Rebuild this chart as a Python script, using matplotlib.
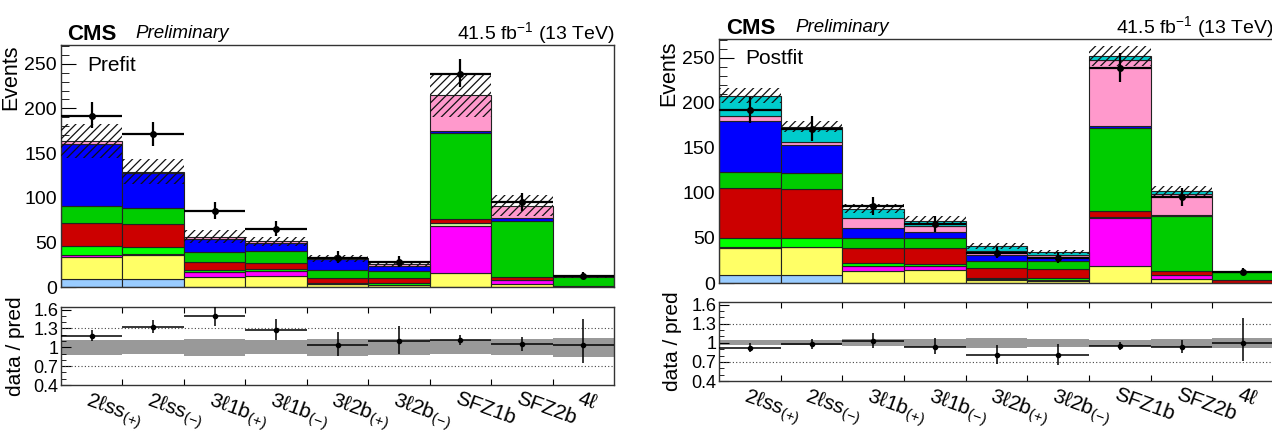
import numpy as np
import matplotlib
matplotlib.use("Agg")
import matplotlib.pyplot as plt
from matplotlib.ticker import MultipleLocator, FixedLocator

plt.rcParams['font.family'] = ['Liberation Sans', 'DejaVu Sans']
plt.rcParams['mathtext.fontset'] = 'custom'
plt.rcParams['mathtext.rm'] = 'Liberation Sans'
plt.rcParams['mathtext.it'] = 'Liberation Sans:italic'
plt.rcParams['mathtext.bf'] = 'Liberation Sans:bold'
plt.rcParams['hatch.linewidth'] = 0.9

# signal region categories
categories = ['2ℓss$_{(+)}$', '2ℓss$_{(-)}$', '3ℓ1b$_{(+)}$', '3ℓ1b$_{(-)}$',
              '3ℓ2b$_{(+)}$', '3ℓ2b$_{(-)}$', 'SFZ1b', 'SFZ2b', '4ℓ']

# observed events
data_obs = np.array([192, 171, 85, 65, 33, 28, 239, 95, 12])
data_err_lo = np.array([13.8, 13.1, 9.2, 8.1, 5.7, 5.3, 15.5, 9.7, 3.4])
data_err_hi = np.array([14.8, 14.1, 10.3, 9.1, 6.8, 6.3, 16.5, 10.8, 4.6])

# prefit yields, stacked bottom to top
pre_flips    = [8.6, 8.6, 0, 0, 0, 0, 0, 0, 0]
pre_fakes    = [25.4, 27.4, 11.0, 12.7, 3.0, 2.0, 16.0, 3.4, 0]
pre_diboson  = [1.5, 1.0, 5.5, 5.2, 0.5, 0.5, 52.7, 4.4, 0]
pre_triboson = [0, 0, 0, 0, 0, 0, 3.3, 0, 0]
pre_convs    = [10.8, 8.0, 2.2, 1.9, 1.0, 2.0, 0, 0, 0]
pre_tth      = [25.7, 25.0, 9.3, 7.5, 6.0, 5.2, 4.0, 3.7, 0.8]
pre_ttll     = [19.0, 19.0, 11.6, 13.1, 8.5, 8.3, 96.0, 62.8, 10.7]
pre_ttlnu    = [69.0, 38.5, 14.4, 9.3, 12.0, 6.0, 3.0, 2.7, 0]
pre_tllq     = [3.0, 1.5, 2.5, 1.3, 1.0, 1.5, 40.0, 14.0, 0]
pre_thq      = [0, 0, 0, 0, 0, 0, 0, 0, 0]
pre_unc      = [19.0, 14.0, 7.5, 5.5, 4.2, 3.2, 24.5, 11.5, 1.7]

# postfit yields
post_flips    = [8.6, 8.6, 0, 0, 0, 0, 0, 0, 0]
post_fakes    = [29.9, 31.0, 13.4, 13.9, 3.0, 2.4, 18.7, 4.0, 0]
post_diboson  = [1.5, 0.9, 5.6, 5.1, 1.0, 0.6, 53.3, 4.6, 0]
post_triboson = [0, 0, 0, 0, 0, 0, 1.0, 0, 0]
post_convs    = [10.4, 9.1, 2.7, 2.0, 1.0, 2.0, 0, 0, 0]
post_tth      = [55.2, 55.3, 16.8, 17.5, 12.2, 11.0, 7.4, 4.8, 3.2]
post_ttll     = [17.9, 17.5, 11.1, 11.9, 7.4, 8.6, 91.3, 60.6, 8.5]
post_ttlnu    = [56.0, 30.9, 11.3, 6.6, 6.4, 4.4, 2.6, 1.8, 0]
post_tllq     = [5.5, 3.7, 11.1, 6.8, 5.0, 2.0, 73.7, 22.7, 0]
post_thq      = [23.0, 16.5, 10.5, 5.6, 5.0, 3.7, 4.0, 3.5, 0.3]
post_unc      = [8.4, 6.2, 4.8, 4.5, 3.2, 2.2, 11.0, 6.2, 0.9]

colors = ['#99ccff', '#ffff66', '#ff00ff', '#ccff99', '#00ff00',
          '#cc0000', '#00cc00', '#0000ff', '#ff99cc', '#00cccc']

prefit = [pre_flips, pre_fakes, pre_diboson, pre_triboson, pre_convs,
          pre_tth, pre_ttll, pre_ttlnu, pre_tllq, pre_thq]
postfit = [post_flips, post_fakes, post_diboson, post_triboson, post_convs,
           post_tth, post_ttll, post_ttlnu, post_tllq, post_thq]

W, H = 1272, 432
fig = plt.figure(figsize=(W / 100, H / 100), dpi=100)


def rect(x0, y0, x1, y1):
    # pixel box -> figure fraction
    return [x0 / W, 1 - y1 / H, (x1 - x0) / W, (y1 - y0) / H]


def fpos(x, y):
    return x / W, 1 - y / H


def draw(main_box, ratio_box, stack, unc, tag, tag_xy):
    ax = fig.add_axes(rect(*main_box))
    axr = fig.add_axes(rect(*ratio_box))
    x = np.arange(len(categories))
    bottom = np.zeros(len(categories))
    for vals, c in zip(stack, colors):
        vals = np.asarray(vals, dtype=float)
        m = vals > 0
        ax.bar(x[m], vals[m], bottom=bottom[m], width=1, align='edge',
               color=c, edgecolor='#222222', linewidth=0.8, zorder=2)
        bottom += vals
    total = bottom
    unc = np.asarray(unc)
    ax.bar(x, 2 * unc, bottom=total - unc, width=1, align='edge', fill=False,
           hatch='////', edgecolor='#111111', linewidth=0, zorder=3)
    ax.errorbar(x + 0.5, data_obs, yerr=[data_err_lo, data_err_hi], xerr=0.5,
                fmt='o', color='black', ms=4, elinewidth=1.6, capsize=0, zorder=5)

    ax.set_xlim(0, len(categories))
    ax.set_ylim(0, 271)
    ax.yaxis.set_major_locator(MultipleLocator(50))
    ax.yaxis.set_minor_locator(MultipleLocator(10))
    ax.xaxis.set_major_locator(FixedLocator(np.arange(1, len(categories))))
    ax.set_xticklabels([])
    ax.tick_params(axis='y', which='major', direction='in', length=11, labelsize=14, pad=3)
    ax.tick_params(axis='y', which='minor', direction='in', length=5.5)
    ax.tick_params(axis='x', which='major', direction='in', length=5)
    ax.text(tag_xy[0], tag_xy[1], tag, transform=ax.transAxes, fontsize=15,
            va='top', ha='left')
    for s in ax.spines.values():
        s.set_linewidth(1.0)
        s.set_color('#333333')

    # ratio panel
    rel = unc / total
    axr.bar(x, 2 * rel, bottom=1 - rel, width=1, align='edge', color='#999999',
            linewidth=0, zorder=1)
    for yv in (0.7, 1.3):
        axr.axhline(yv, color='#444444', linestyle=(0, (1, 2)), linewidth=0.8, zorder=2)
    axr.errorbar(x + 0.5, data_obs / total,
                 yerr=[data_err_lo / total, data_err_hi / total], xerr=0.5,
                 fmt='o', color='black', ms=3, elinewidth=1.1, capsize=0, zorder=4)
    axr.set_xlim(0, len(categories))
    axr.set_ylim(0.4, 1.64)
    axr.yaxis.set_major_locator(FixedLocator([0.4, 0.7, 1.0, 1.3, 1.6]))
    axr.set_yticklabels(['0.4', '0.7', '1', '1.3', '1.6'])
    axr.yaxis.set_minor_locator(MultipleLocator(0.1))
    axr.xaxis.set_major_locator(FixedLocator(np.arange(1, len(categories))))
    axr.set_xticklabels([])
    axr.tick_params(axis='y', which='major', direction='in', length=7, labelsize=13, pad=2)
    axr.tick_params(axis='y', which='minor', direction='in', length=3.5)
    axr.tick_params(axis='x', which='major', direction='in', length=4, top=True)
    for s in axr.spines.values():
        s.set_linewidth(1.0)
        s.set_color('#333333')
    for i, lab in enumerate(categories):
        axr.annotate(lab, xy=(i + 0.5, 0), xycoords=('data', 'axes fraction'),
                     xytext=(-1, -3), textcoords='offset points', rotation=-20,
                     rotation_mode='anchor', ha='left', va='top', fontsize=15,
                     annotation_clip=False)
    return ax, axr


draw((61, 45, 614, 287), (61, 307, 614, 385), prefit, pre_unc, 'Prefit', (0.047, 0.955))
draw((719, 39, 1274, 283), (719, 302, 1274, 381), postfit, post_unc, 'Postfit', (0.047, 0.96))

# headers
for x_cms, x_pre, x_lumi, yb in ((67, 135, 614.5, 39.5), (726, 795, 1274, 33.5)):
    fig.text(*fpos(x_cms, yb), 'CMS', fontsize=16, fontweight='bold', va='baseline')
    fig.text(*fpos(x_pre, yb - 1), 'Preliminary', fontsize=13.5, style='italic', va='baseline')
    fig.text(*fpos(x_lumi, yb), '41.5 fb$^{-1}$ (13 TeV)', fontsize=14, ha='right', va='baseline')

fig.text(*fpos(11, 45), 'Events', rotation=90, fontsize=15.5, ha='center', va='top')
fig.text(*fpos(669, 40), 'Events', rotation=90, fontsize=15.5, ha='center', va='top')
fig.text(*fpos(16, 346), 'data / pred', rotation=90, fontsize=15, ha='center', va='center')
fig.text(*fpos(672, 341), 'data / pred', rotation=90, fontsize=15, ha='center', va='center')

fig.savefig('out.png', dpi=100)
